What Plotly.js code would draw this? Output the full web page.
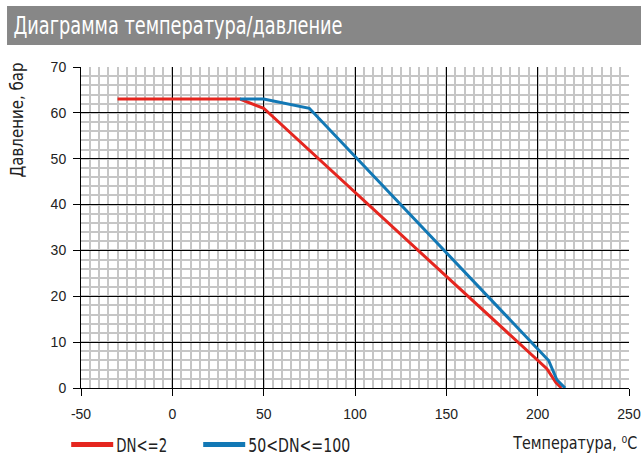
<!DOCTYPE html>
<html>
<head>
<meta charset="utf-8">
<script src="https://cdn.plot.ly/plotly-3.0.1.min.js"></script>
<style>html,body{margin:0;padding:0;background:#fff;}#chart{width:641px;height:455px;}</style>
</head>
<body>
<div id="chart"></div>
<script>
// Data
const seriesNames = ["DN<=2", "50<DN<=100"];
const tempSmall = [-30, 37, 50, 205, 210, 213];
const presSmall = [63, 63, 61, 4.2, 1.2, 0];
const tempLarge = [37, 50, 75, 206, 210.5, 215];
const presLarge = [63, 63, 61, 6, 1.8, 0];
const xTicks = [-50, 0, 50, 100, 150, 200, 250];
const yTicks = [0, 10, 20, 30, 40, 50, 60, 70];

const FONT = '"DejaVu Sans Condensed", "DejaVu Sans", sans-serif';
const TICKFONT = '"Liberation Sans", Arial, sans-serif';

const traces = [
  {x: tempSmall, y: presSmall, name: seriesNames[0], mode: 'lines', type: 'scatter',
   line: {color: '#e5261f', width: 3}},
  {x: tempLarge, y: presLarge, name: seriesNames[1], mode: 'lines', type: 'scatter',
   line: {color: '#1278b5', width: 3}}
];

const axisCommon = {
  showline: true, linecolor: '#000', linewidth: 1,
  ticks: 'outside', ticklen: 7, tickcolor: '#000', tickwidth: 1,
  showgrid: true, gridcolor: '#000', gridwidth: 1,
  zeroline: false,
  tickfont: {family: TICKFONT, size: 14, color: '#222'}
};

const layout = {
  width: 641, height: 455,
  margin: {l: 81, r: 12, t: 67, b: 67, autoexpand: false},
  paper_bgcolor: '#fff', plot_bgcolor: '#fff',
  title: {text: 'Диаграмма температура/давление', x: 0.021, xanchor: 'left', xref: 'container',
          y: 0.943, yanchor: 'middle', yref: 'container',
          font: {family: FONT, size: 24, color: '#fff'}},
  xaxis: Object.assign({}, axisCommon, {
    range: [-50, 250], tickvals: xTicks, ticktext: xTicks.map(String), ticklabelstandoff: 6,
    minor: {dtick: 5, showgrid: true, gridcolor: '#c6c6c6', gridwidth: 2}
  }),
  yaxis: Object.assign({}, axisCommon, {
    range: [0, 70], tickvals: yTicks, ticktext: yTicks.map(String), ticklabelstandoff: 4,
    minor: {dtick: 2, showgrid: true, gridcolor: '#c6c6c6', gridwidth: 2}
  }),
  showlegend: true,
  legend: {orientation: 'h', x: -0.027, xanchor: 'left', y: -0.117, yanchor: 'top',
           font: {family: FONT, size: 19, color: '#222'}, itemwidth: 40,
           bgcolor: 'rgba(0,0,0,0)'},
  shapes: [
    {type: 'rect', xref: 'paper', yref: 'paper', x0: -0.135, x1: 1.03, y0: 1.0685, y1: 1.19,
     fillcolor: '#878787', line: {width: 0}, layer: 'below'}
  ],
  annotations: [
    {text: 'Температура, ⁰C', xref: 'paper', yref: 'paper', x: 0.9, xanchor: 'center',
     y: -0.17, yanchor: 'middle', showarrow: false, font: {family: FONT, size: 17, color: '#222'}},
    {text: 'Давление, бар', xref: 'paper', yref: 'paper', x: -0.1168, xanchor: 'center',
     y: 0.835, yanchor: 'middle', textangle: -90, showarrow: false, font: {family: FONT, size: 18, color: '#222'}}
  ]
};

function squeeze(el, len) {
  if (!el) return;
  el.setAttribute('textLength', len);
  el.setAttribute('lengthAdjust', 'spacingAndGlyphs');
}

function getTranslate(el) {
  const m = /translate\(\s*([-\d.]+)[ ,]+([-\d.]+)\s*\)/.exec(el.getAttribute('transform') || '');
  return m ? [parseFloat(m[1]), parseFloat(m[2])] : [0, 0];
}

Plotly.newPlot('chart', traces, layout, {displayModeBar: false, staticPlot: true}).then(function (gd) {
  squeeze(gd.querySelector('.gtitle'), 329);
  const lt = gd.querySelectorAll('.legendtext');
  squeeze(lt[0], 51);
  squeeze(lt[1], 102);
  const an = gd.querySelectorAll('.annotation-text');
  squeeze(an[0], 124);
  squeeze(an[1], 115);
  gd.querySelectorAll('.legendlines path').forEach(function (p) {
    p.setAttribute('d', 'M5,0h42');
    p.style.strokeWidth = '5px';
  });
  const items = gd.querySelectorAll('.legend .traces');
  if (items.length === 2) {
    const t0 = getTranslate(items[0]);
    const t1 = getTranslate(items[1]);
    items[1].setAttribute('transform', 'translate(' + (t0[0] + 132) + ',' + t1[1] + ')');
  }
  gd.querySelectorAll('.legend [clip-path]').forEach(function (e) { e.removeAttribute('clip-path'); });
});
</script>
</body>
</html>
